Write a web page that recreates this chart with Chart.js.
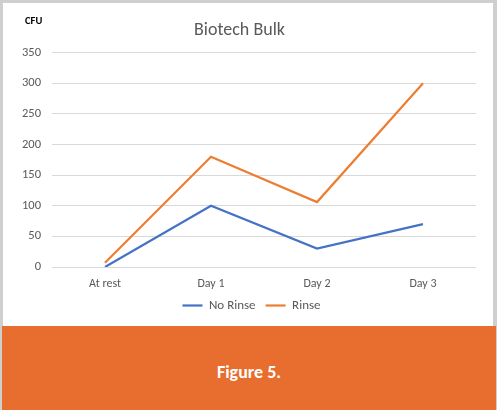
<!DOCTYPE html>
<html>
<head>
<meta charset="utf-8">
<script src="https://cdn.jsdelivr.net/npm/chart.js@4/dist/chart.umd.min.js"></script>
<style>
  html, body { margin: 0; padding: 0; background: #fff; }
  #page {
    position: relative;
    width: 497px;
    height: 410px;
    background: #cfcfcf;
    overflow: hidden;
    font-family: Carlito, Lato, sans-serif;
  }
  #white {
    position: absolute;
    left: 3px; top: 3px;
    width: 490px; height: 323px;
    background: #fff;
  }
  #unit {
    position: absolute;
    left: 25px; top: 14px;
    font-size: 10.5px;
    font-weight: bold;
    color: #000;
  }
  #band {
    position: absolute;
    left: 2px; top: 326px;
    width: 494px; height: 84px;
    background: #e86e30;
    color: #fff;
    font-weight: bold;
    font-size: 18px;
    text-align: center;
    line-height: 84px;
    box-sizing: border-box;
    padding-top: 4px;
  }
</style>
</head>
<body>
<div id="page">
  <div id="white"><canvas id="chart" width="490" height="323"></canvas></div>
  <div id="unit">CFU</div>
  <div id="band">Figure 5.</div>
</div>
<script>
// chart values
const categories = ['At rest', 'Day 1', 'Day 2', 'Day 3'];
const noRinse = [0, 100, 30, 70];
const rinse = [7, 180, 106, 300];
const yTicks = [0, 50, 100, 150, 200, 250, 300, 350];

const gray = '#595959';
const font = 'Carlito, Lato, sans-serif';

// the legend in the picture sits a little right of the canvas centre
const legendShift = {
    id: 'legendShift',
    afterLayout(chart) {
        chart.legend.left += 12;
        chart.legend.right += 12;
    }
};

new Chart(document.getElementById('chart'), {
    type: 'line',
    data: {
        labels: categories,
        datasets: [
            { label: 'No Rinse', data: noRinse, borderColor: '#4472c4', backgroundColor: '#4472c4', borderWidth: 2.2 },
            { label: 'Rinse', data: rinse, borderColor: '#ed7d31', backgroundColor: '#ed7d31', borderWidth: 2.2 }
        ]
    },
    plugins: [legendShift],
    options: {
        responsive: false,
        animation: false,
        devicePixelRatio: 1,
        layout: { padding: { left: 0, right: 17, top: 0, bottom: 4 } },
        elements: {
            line: { tension: 0 },
            point: { radius: 0 }
        },
        plugins: {
            title: {
                display: true,
                text: 'Biotech Bulk',
                color: gray,
                font: { family: font, size: 18, weight: 'normal' },
                padding: { top: 17, bottom: 11 }
            },
            legend: {
                position: 'bottom',
                labels: {
                    usePointStyle: true,
                    pointStyle: 'line',
                    pointStyleWidth: 20,
                    color: gray,
                    font: { family: font, size: 13 },
                    padding: 10
                }
            },
            tooltip: { enabled: false }
        },
        scales: {
            x: {
                offset: true,
                grid: { display: false, drawTicks: false },
                border: { display: false },
                afterFit: (axis) => { axis.height = 22; },
                ticks: { color: gray, font: { family: font, size: 12 }, padding: 10 }
            },
            y: {
                min: yTicks[0],
                max: yTicks[yTicks.length - 1],
                afterBuildTicks: (axis) => { axis.ticks = yTicks.map(v => ({ value: v })); },
                afterFit: (axis) => { axis.width = 49; },
                grid: { color: '#d9d9d9', drawTicks: false, lineWidth: 1 },
                border: { display: false },
                ticks: { color: gray, font: { family: font, size: 12.5 }, padding: 11 }
            }
        }
    }
});
</script>
</body>
</html>
